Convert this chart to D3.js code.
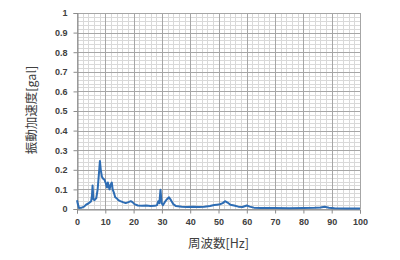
<!DOCTYPE html>
<html>
<head>
<meta charset="utf-8">
<script src="https://cdn.jsdelivr.net/npm/d3@7"></script>
<style>
  body { margin: 0; background: #fff; }
</style>
</head>
<body>
<div id="chart"></div>
<script>
// Spectrum (frequency in Hz, acceleration in gal)
var freq = [0, 0.3, 0.7, 1.5, 2.5, 3.2, 4.0, 4.6, 5.0, 5.3, 5.5, 5.8, 6.2, 6.8, 7.3, 7.8, 8.1, 8.4, 8.8, 9.2,
            9.7, 10.2, 10.6, 10.9, 11.2, 11.5, 11.9, 12.3, 12.6, 13.0, 13.5, 14.0, 14.6, 15.3, 16.2, 17.2, 18.2, 19.0, 19.6, 20.3,
            21.5, 23, 24.5, 26, 27.5, 28.3, 28.7, 29.1, 29.5, 29.9, 30.4, 31.0, 31.8, 32.5, 33.2, 34.0, 35.0, 37, 39, 41,
            43, 45, 47, 48.5, 49.5, 50.5, 51.5, 52.3, 53.2, 54.2, 55.5, 57, 58.5, 60, 61, 62.5, 65, 70, 75, 80,
            84, 86, 87.5, 89, 91, 95, 100]
var accel = [0.045, 0.025, 0.005, 0.006, 0.012, 0.022, 0.028, 0.035, 0.04, 0.07, 0.12, 0.05, 0.045, 0.055, 0.1, 0.19, 0.245, 0.2, 0.165, 0.155,
             0.15, 0.13, 0.11, 0.135, 0.115, 0.1, 0.125, 0.135, 0.1, 0.085, 0.06, 0.055, 0.045, 0.04, 0.035, 0.03, 0.035, 0.04, 0.035, 0.025,
             0.018, 0.016, 0.018, 0.015, 0.016, 0.02, 0.04, 0.03, 0.098, 0.03, 0.02, 0.035, 0.05, 0.06, 0.045, 0.025, 0.015, 0.012, 0.01, 0.012,
             0.01, 0.012, 0.015, 0.02, 0.022, 0.024, 0.03, 0.04, 0.033, 0.022, 0.018, 0.012, 0.01, 0.018, 0.012, 0.007, 0.005, 0.005, 0.004, 0.005,
             0.006, 0.008, 0.011, 0.006, 0.004, 0.003, 0.003]

var xTicks = [0, 10, 20, 30, 40, 50, 60, 70, 80, 90, 100]
var yTicks = [0, 0.1, 0.2, 0.3, 0.4, 0.5, 0.6, 0.7, 0.8, 0.9, 1]
var xLabel = "周波数[Hz]"
var yLabel = "振動加速度[gal]"

var width = 400;
var height = 260;
var margin = {left: 77, top: 13, right: 40, bottom: 51};
var lineColor = "#2e6db4"
var tickFont = "'Liberation Sans', Arial, sans-serif"
var titleFont = "'Noto Sans CJK JP', sans-serif"

const svg = d3.select("#chart")
              .append("svg")
              .attr("width", width)
              .attr("height", height)

var xScale = d3.scaleLinear()
               .domain([0, 100])
               .range([margin.left, width - margin.right])

var yScale = d3.scaleLinear()
               .domain([0, 1])
               .range([height - margin.bottom, margin.top])

// minor grid (5 steps between major lines)
var minorX = d3.range(0, 101, 2).filter((d) => d % 10 != 0)
var minorY = d3.range(0, 51, 1).map((d) => d / 50).filter((d, i) => i % 5 != 0)

svg.append("g").selectAll("line").data(minorX).enter().append("line")
   .attr("x1", (d) => Math.round(xScale(d)) + 0.5).attr("x2", (d) => Math.round(xScale(d)) + 0.5)
   .attr("y1", yScale(0)).attr("y2", yScale(1))
   .attr("stroke", "#d9d9d9").attr("stroke-width", 1)

svg.append("g").selectAll("line").data(minorY).enter().append("line")
   .attr("y1", (d) => Math.round(yScale(d)) + 0.5).attr("y2", (d) => Math.round(yScale(d)) + 0.5)
   .attr("x1", xScale(0)).attr("x2", xScale(100))
   .attr("stroke", "#d9d9d9").attr("stroke-width", 1)

// major grid
svg.append("g").selectAll("line").data(xTicks).enter().append("line")
   .attr("x1", (d) => Math.round(xScale(d)) + 0.5).attr("x2", (d) => Math.round(xScale(d)) + 0.5)
   .attr("y1", yScale(0)).attr("y2", yScale(1))
   .attr("stroke", "#a6a6a6").attr("stroke-width", 1)

svg.append("g").selectAll("line").data(yTicks).enter().append("line")
   .attr("y1", (d) => Math.round(yScale(d)) + 0.5).attr("y2", (d) => Math.round(yScale(d)) + 0.5)
   .attr("x1", xScale(0)).attr("x2", xScale(100))
   .attr("stroke", "#a6a6a6").attr("stroke-width", 1)

// axes
var xAxis = d3.axisBottom(xScale).tickValues(xTicks).tickSize(4).tickPadding(5).tickFormat(d3.format("d"))
var yAxis = d3.axisLeft(yScale).tickValues(yTicks).tickSize(4).tickPadding(6).tickFormat((d) => d == 0 || d == 1 ? d : d3.format(".1f")(d))

var gx = svg.append("g")
   .attr("transform", "translate(0," + (Math.round(yScale(0)) + 0.5) + ")")
   .call(xAxis)
gx.select(".domain").attr("stroke", "#8c8c8c")
gx.selectAll(".tick line").attr("stroke", "#8c8c8c")
gx.selectAll("text").attr("font-family", tickFont).attr("font-size", 9)
  .attr("font-weight", "bold").attr("fill", "#404040")

var gy = svg.append("g")
   .attr("transform", "translate(" + (Math.round(xScale(0)) + 0.5) + ",0)")
   .call(yAxis)
gy.select(".domain").attr("stroke", "#8c8c8c")
gy.selectAll(".tick line").attr("stroke", "#8c8c8c")
gy.selectAll("text").attr("font-family", tickFont).attr("font-size", 9)
  .attr("font-weight", "bold").attr("fill", "#404040")

// spectrum line
svg.append("path")
   .datum(accel)
   .attr("d", d3.line()
                .x((d, i) => xScale(freq[i]))
                .y((d) => yScale(d)))
   .attr("fill", "none")
   .attr("stroke", lineColor)
   .attr("stroke-width", 2)
   .attr("stroke-linejoin", "round")

// axis titles
svg.append("text")
   .attr("x", (xScale(0) + xScale(100)) / 2)
   .attr("y", 248)
   .attr("text-anchor", "middle")
   .attr("font-family", titleFont)
   .attr("font-size", 12.5)
   .attr("fill", "#404040")
   .text(xLabel)

svg.append("text")
   .attr("transform", "translate(36," + 110 + ") rotate(-90)")
   .attr("text-anchor", "middle")
   .attr("font-family", titleFont)
   .attr("font-size", 12.5)
   .attr("fill", "#404040")
   .text(yLabel)
</script>
</body>
</html>
